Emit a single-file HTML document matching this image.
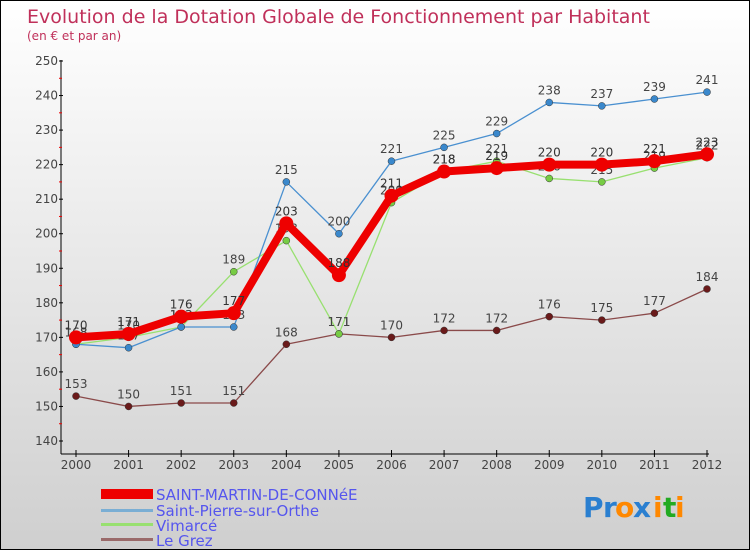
<!DOCTYPE html>
<html><head><meta charset="utf-8"><style>
body{margin:0}
#c{width:750px;height:550px;position:relative;overflow:hidden;box-sizing:border-box;border:1px solid #000;background:linear-gradient(#ffffff,#cfcfcf);font-family:"DejaVu Sans","Liberation Sans",sans-serif}
text{font-family:"DejaVu Sans","Liberation Sans",sans-serif}
</style></head><body>
<div id="c">
<svg id="s" width="750" height="550">
<text x="26" y="22" font-size="19" fill="#c0305a">Evolution de la Dotation Globale de Fonctionnement par Habitant</text>
<text x="26" y="39" font-size="12" fill="#c0305a">(en € et par an)</text>
<g id="legend">
<rect x="100" y="488" width="52" height="10" fill="#e00"/>
<text x="155" y="499" font-size="15" fill="#5555ee">SAINT-MARTIN-DE-CONNéE</text>
<rect x="100" y="508" width="52" height="3" fill="#7aaed4"/>
<text x="155" y="515" font-size="15" fill="#5555ee">Saint-Pierre-sur-Orthe</text>
<rect x="100" y="522" width="52" height="3" fill="#98e070"/>
<text x="155" y="530" font-size="15" fill="#5555ee">Vimarcé</text>
<rect x="100" y="537" width="52" height="3" fill="#9a6a6a"/>
<text x="155" y="545" font-size="15" fill="#5555ee">Le Grez</text>
</g>
<g font-size="28" font-weight="bold">
<text x="582" y="516" fill="#2a7fd0">P</text><text x="602" y="516" fill="#2a7fd0">r</text><text x="614" y="516" fill="#ff8800">o</text><text x="632" y="516" fill="#2a7fd0">x</text><text x="652" y="516" fill="#ff8800">i</text><text x="662" y="516" fill="#22aa22">t</text><text x="674" y="516" fill="#ff8800">i</text>
</g>
</svg>
</div>
<script>
const years=[2000,2001,2002,2003,2004,2005,2006,2007,2008,2009,2010,2011,2012];
const yTicks=[140,150,160,170,180,190,200,210,220,230,240,250];
const saintMartin=[170,171,176,177,203,188,211,218,219,220,220,221,223];
const saintPierre=[168,167,173,173,215,200,221,225,229,238,237,239,241];
const vimarce=[168,170,173,189,198,171,209,218,221,216,215,219,222];
const leGrez=[153,150,151,151,168,171,170,172,172,176,175,177,184];
const NS="http://www.w3.org/2000/svg";
const svg=document.getElementById('s');
const x0=75,x1=706,y0=440,y1=60;
const xs=i=>x0+(x1-x0)*i/(years.length-1);
const ys=v=>y0-(v-140)*(y0-y1)/110;
function mk(t,a,p){const e=document.createElementNS(NS,t);for(const k in a)e.setAttribute(k,a[k]);(p||svg).appendChild(e);return e;}
const ax=mk('g',{});


const ya=mk('line',{x1:60,y1:59,x2:60,y2:453,stroke:'#000'},ax);


const xa=mk('line',{x1:60,y1:453,x2:708,y2:453,stroke:'#000'},ax);


yTicks.forEach((v,i)=>{const y=ys(v);
mk('line',{x1:58,x2:62,y1:y,y2:y,stroke:'#000'},ax);
if(i<yTicks.length-1)mk('line',{x1:58,x2:61,y1:ys(v+5),y2:ys(v+5),stroke:'#e00'},ax);
const t=mk('text',{x:57,y:y+4,'font-size':12,'text-anchor':'end',fill:'#444'},ax);t.textContent=v;

});
years.forEach((yr,i)=>{const x=xs(i);
mk('line',{x1:x,x2:x,y1:449,y2:456,stroke:'#000'},ax);
const t=mk('text',{x:x,y:468,'font-size':12,'text-anchor':'middle',fill:'#444'},ax);t.textContent=yr;

});
function series(name,data,color,w,r,dot,labelCol){
const g=mk('g',{});


const pl=mk('polyline',{points:data.map((v,i)=>xs(i)+','+ys(v)).join(' '),fill:'none',stroke:color,'stroke-width':w,'stroke-linejoin':'round'},g);


data.forEach((v,i)=>{const c=mk('circle',{cx:xs(i),cy:ys(v),r:r,fill:dot,stroke:color==='#e00'?'none':'#333','stroke-width':0.5},g);


const t=mk('text',{x:xs(i),y:ys(v)-8,'font-size':12,'text-anchor':'middle',fill:labelCol},g);t.textContent=v;

});}
series('le-grez',leGrez,'#8a4a4a',1.3,3.5,'#6a1a1a','#444');
series('vimarce',vimarce,'#98e070',1.3,3.5,'#77cc44','#444');
series('saint-pierre',saintPierre,'#4a90d0',1.3,3.5,'#3a88cc','#444');
series('saint-martin',saintMartin,'#e00',8,7,'#e00','#333');
</script>
</body></html>
